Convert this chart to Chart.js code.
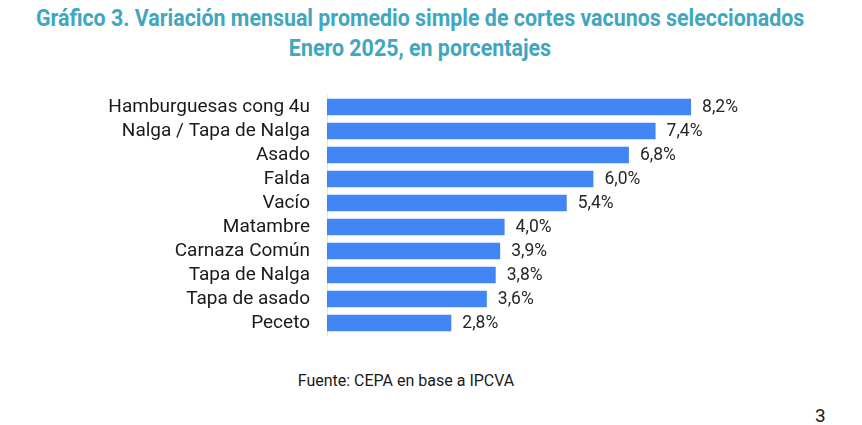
<!DOCTYPE html>
<html><head><meta charset="utf-8">
<script src="https://cdn.jsdelivr.net/npm/chart.js@4.4.1/dist/chart.umd.min.js"></script>
<style>
html,body{margin:0;padding:0;background:#fff;width:862px;height:425px;overflow:hidden;font-family:Roboto,sans-serif;}
#t{position:absolute;left:0;top:4px;width:840px;text-align:center;color:#3fa7c0;font-weight:700;font-size:23px;line-height:30px;}
#t span{display:inline-block;transform:scaleX(0.93);transform-origin:center;white-space:nowrap;}
#c{position:absolute;left:0;top:90px;width:862px;height:250px;}
#src{position:absolute;left:0;width:812px;top:371px;text-align:center;font-size:16px;color:#1a1a1a;}
#pg{position:absolute;left:815px;top:404px;font-size:19px;color:#1a1a1a;}
</style></head><body>
<div id="t"><span>Gráfico 3. Variación mensual promedio simple de cortes vacunos seleccionados</span><br><span>Enero 2025, en porcentajes</span></div>
<canvas id="c" width="862" height="250"></canvas>
<div id="src">Fuente: CEPA en base a IPCVA</div>
<div id="pg">3</div>
<script>
const categories = ["Hamburguesas cong 4u","Nalga / Tapa de Nalga","Asado","Falda","Vacío","Matambre","Carnaza Común","Tapa de Nalga","Tapa de asado","Peceto"];
const values = [8.2,7.4,6.8,6.0,5.4,4.0,3.9,3.8,3.6,2.8];
const valueLabels = ["8,2%","7,4%","6,8%","6,0%","5,4%","4,0%","3,9%","3,8%","3,6%","2,8%"];

const labelPlugin = {
  id:'vlabels',
  afterDatasetsDraw(chart){
    const ctx = chart.ctx;
    const meta = chart.getDatasetMeta(0);
    ctx.save();
    ctx.font = '17.5px Roboto';
    ctx.fillStyle = '#262626';
    ctx.textBaseline = 'middle';
    ctx.textAlign = 'left';
    meta.data.forEach((bar,i)=>{
      ctx.fillText(valueLabels[i], bar.x + 11, bar.y + 1);
    });
    ctx.restore();
  }
};

new Chart(document.getElementById('c'),{
  type:'bar',
  data:{labels:categories,datasets:[{data:values,backgroundColor:'#4285f4',barPercentage:0.68,categoryPercentage:1}]},
  options:{
    indexAxis:'y',responsive:false,maintainAspectRatio:false,animation:false,devicePixelRatio:1,
    layout:{padding:{top:5,bottom:5,right:91,left:0}},
    plugins:{legend:{display:false},tooltip:{enabled:false},title:{display:false}},
    scales:{
      x:{min:0,max:10,display:false},
      y:{
        grid:{display:false},
        border:{display:true,color:'#efdadd',width:1},
        ticks:{color:'#1a1a1a',font:{family:'Roboto',size:19},padding:9,autoSkip:false},
        afterFit(s){s.width=327;s.paddingTop=0;s.paddingBottom=0;}
      }
    }
  },
  plugins:[labelPlugin]
});
</script>
</body></html>
